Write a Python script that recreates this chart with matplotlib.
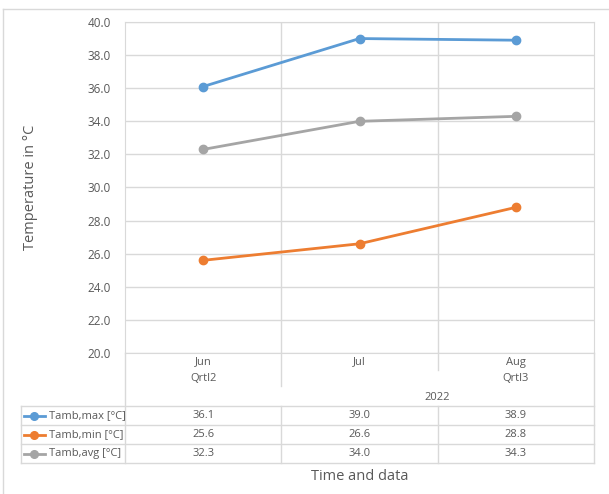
import numpy as np
import matplotlib
matplotlib.use('Agg')
import matplotlib.pyplot as plt
from matplotlib.lines import Line2D

plt.rcParams['font.family'] = ['Open Sans', 'DejaVu Sans']

# ── data ────────────────────────────────────────────────────────────────
MONTHS = ['Jun', 'Jul', 'Aug']
QUARTERS = ['Qrtl2', '', 'Qrtl3']
YEAR = '2022'
SERIES = ['Tamb,max [°C]', 'Tamb,min [°C]', 'Tamb,avg [°C]']
T_MAX = [36.1, 39.0, 38.9]
T_MIN = [25.6, 26.6, 28.8]
T_AVG = [32.3, 34.0, 34.3]
COLORS = ['#5B9BD5', '#ED7D31', '#A5A5A5']

GRID = '#D9D9D9'
TXT = '#595959'
W, H = 609, 494

fig = plt.figure(figsize=(W / 100, H / 100), dpi=100)

# outer chart frame (left + top visible)
fig.add_artist(Line2D([3 / W, 3 / W], [0, 1 - 9 / H], color=GRID, lw=1))
fig.add_artist(Line2D([3 / W, 1], [1 - 9 / H, 1 - 9 / H], color=GRID, lw=1))

# ── main plot ───────────────────────────────────────────────────────────
L, R, T, B = 125, 594, 22, 353
ax = fig.add_axes([L / W, 1 - B / H, (R - L) / W, (B - T) / H])
x = np.arange(len(MONTHS))
for vals, c in zip([T_MAX, T_MIN, T_AVG], COLORS):
    ax.plot(x, vals, color=c, lw=2, marker='o', ms=6, zorder=3)
ax.set_xlim(-0.5, 2.5)
ax.set_ylim(20, 40)
ax.set_yticks(np.arange(20, 40.1, 2))
ax.set_yticklabels([f'{v:.1f}' for v in np.arange(20, 40.1, 2)], color=TXT, fontsize=8.5)
ax.tick_params(axis='y', length=0, pad=10)
ax.set_xticks([])
ax.grid(axis='y', color=GRID, lw=1)
for xv in [0.5, 1.5]:
    ax.axvline(xv, color=GRID, lw=1)
for s in ax.spines.values():
    s.set_color(GRID)
ax.set_axisbelow(True)

# ── data table below ────────────────────────────────────────────────────
cw = (R - L) / 3
TL, TB = 21, 463
tx0 = -0.5 - (L - TL) / cw
tab = fig.add_axes([TL / W, 1 - TB / H, (R - TL) / W, (TB - B) / H])
tab.set_xlim(tx0, 2.5)
tab.set_ylim(TB, B)
tab.axis('off')

def px(p):
    return tx0 + (p - TL) / cw

lk = dict(color=GRID, lw=1, clip_on=False)
# verticals in the category header
tab.plot([-0.5, -0.5], [B, TB], **lk)
tab.plot([2.5, 2.5], [B, TB], **lk)
tab.plot([0.5, 0.5], [B, 386], **lk)
tab.plot([1.5, 1.5], [B, 370], **lk)
# table grid
rows_y = [406, 425, 444, 463]
for yy in rows_y:
    tab.plot([tx0, 2.5], [yy, yy], **lk)
tab.plot([tx0, tx0], [406, 463], **lk)
for xv in [0.5, 1.5]:
    tab.plot([xv, xv], [406, 463], **lk)

FS = 8
for i, m in enumerate(MONTHS):
    tab.text(i, 362, m, ha='center', va='center', fontsize=FS, color=TXT)
    if QUARTERS[i]:
        tab.text(i, 378, QUARTERS[i], ha='center', va='center', fontsize=FS, color=TXT)
tab.text(1.5, 397, YEAR, ha='center', va='center', fontsize=FS, color=TXT)

for r, (name, vals, c) in enumerate(zip(SERIES, [T_MAX, T_MIN, T_AVG], COLORS)):
    yc = (rows_y[r] + rows_y[r + 1]) / 2
    tab.plot([px(24), px(45)], [yc, yc], color=c, lw=2, clip_on=False)
    tab.plot([px(34)], [yc], marker='o', ms=5.5, color=c, clip_on=False)
    tab.text(px(49), yc, name, ha='left', va='center', fontsize=FS, color=TXT)
    for i, v in enumerate(vals):
        tab.text(i, yc, f'{v:.1f}', ha='center', va='center', fontsize=FS, color=TXT)

fig.text(30 / W, 1 - 187 / H, 'Temperature in °C', rotation=90, ha='center', va='center',
         fontsize=10.5, color=TXT)
fig.text(360 / W, 1 - 476 / H, 'Time and data', ha='center', va='center',
         fontsize=10.5, color=TXT)

fig.savefig('out.png', dpi=100)
